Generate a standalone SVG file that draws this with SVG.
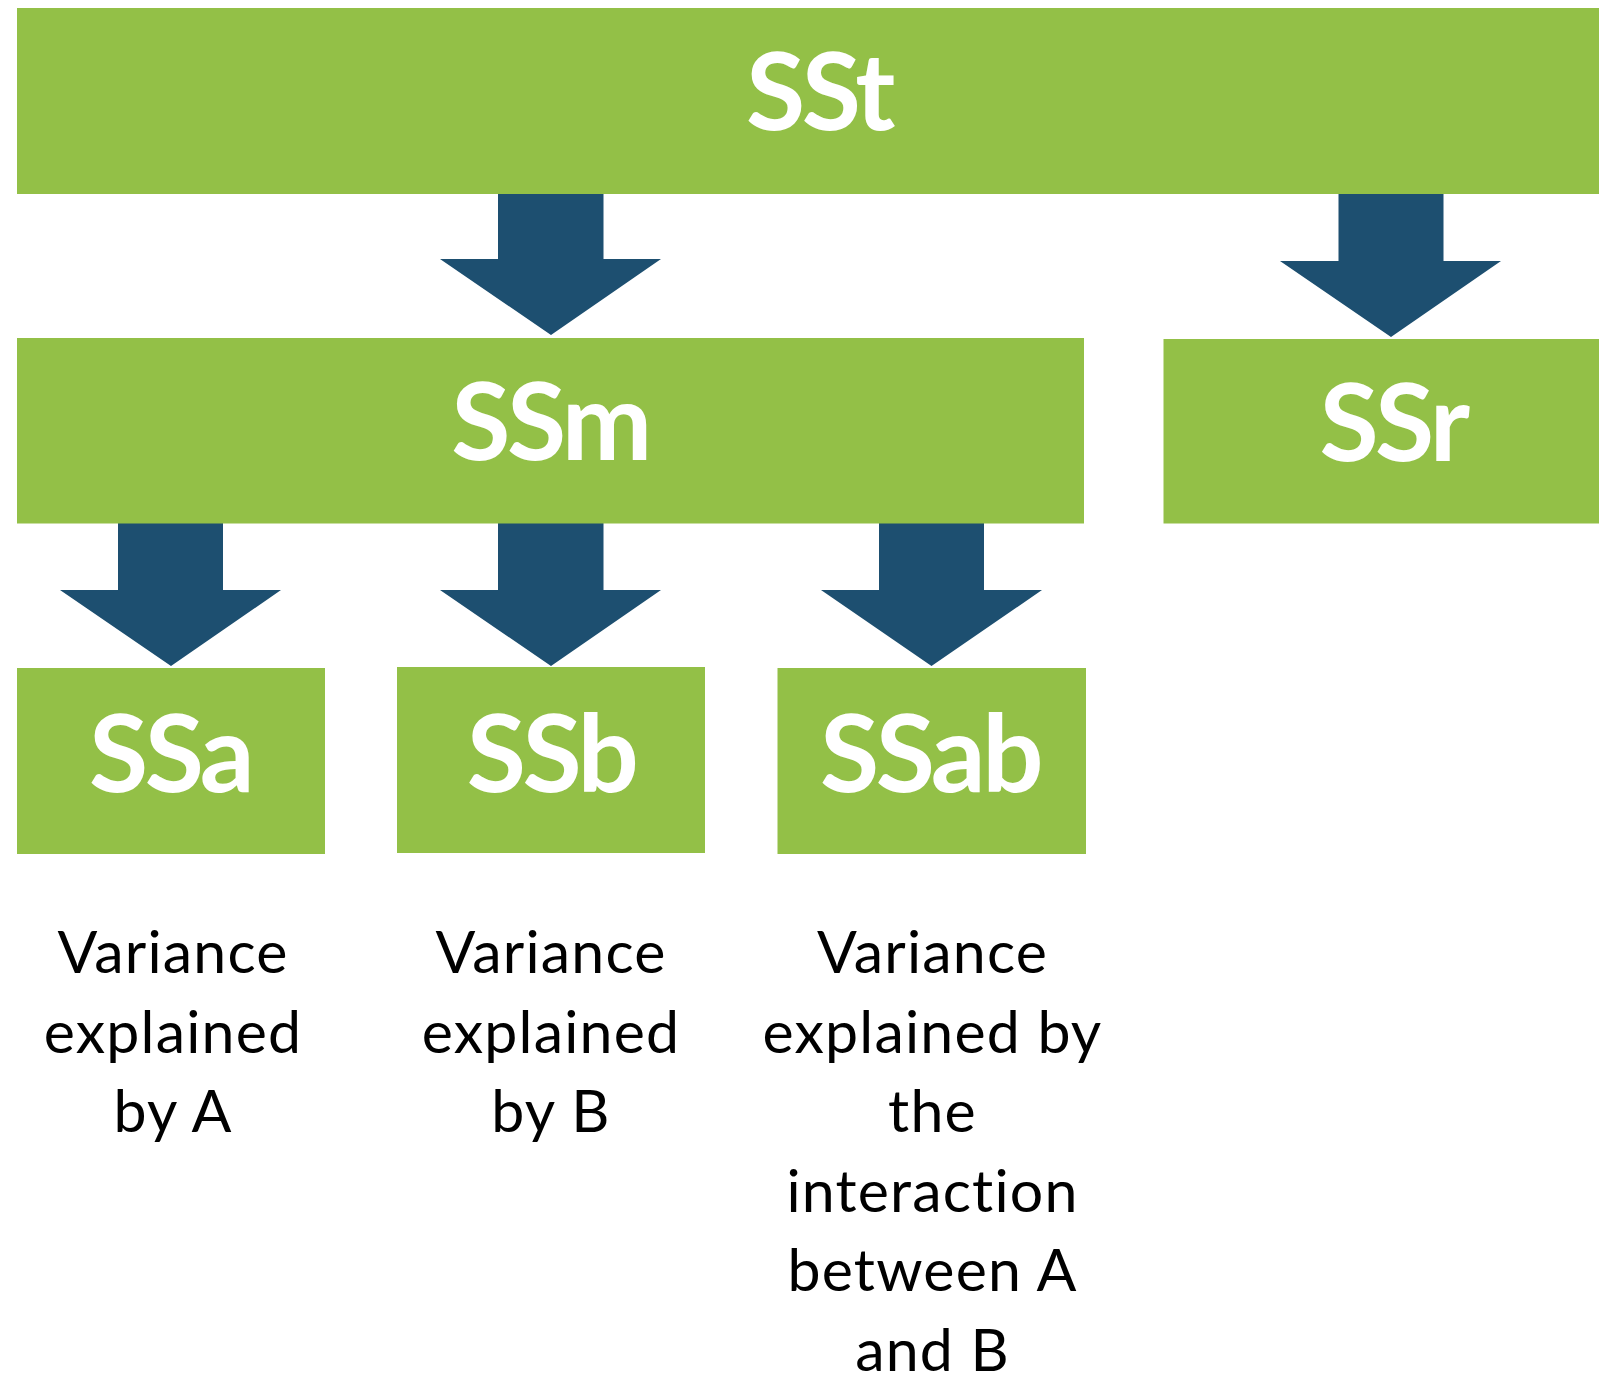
<svg xmlns="http://www.w3.org/2000/svg" width="1599" height="1374" viewBox="0 0 1599 1374">
<style>
.box{fill:#93C047}
.arr{fill:#1D4F70}
.t{font-family:Lato,"Open Sans","Liberation Sans",sans-serif;font-weight:700;font-size:108px;letter-spacing:-3.5px;fill:#fff;text-anchor:middle}
.d{font-family:Lato,"Open Sans","Liberation Sans",sans-serif;font-weight:400;font-size:59px;letter-spacing:1.2px;fill:#000;text-anchor:middle}
</style>
<rect width="1599" height="1374" fill="#fff"/>
<g id="connectors">
<polygon class="arr" points="498,191 603.5,191 603.5,259 661,259 551,335 440,259 498,259"/>
<polygon class="arr" points="1338.5,193 1443.5,193 1443.5,261 1501,261 1391,337 1280,261 1338.5,261"/>
<polygon class="arr" points="118,522 223,522 223,590 281,590 171,666 60,590 118,590"/>
<polygon class="arr" points="498,522 603.5,522 603.5,590 661,590 551,666 440,590 498,590"/>
<polygon class="arr" points="879,522 984,522 984,590 1042,590 931.5,666 821,590 879,590"/>
</g>
<g id="SSt"><rect class="box" x="17" y="8" width="1582" height="186"/><text class="t" x="819" y="130">SSt</text></g>
<g id="SSm"><rect class="box" x="17" y="338" width="1067" height="185.5"/><text class="t" x="550" y="460">SSm</text></g>
<g id="SSr"><rect class="box" x="1163.5" y="339" width="435.5" height="184.5"/><text class="t" x="1393" y="461">SSr</text></g>
<g id="SSa"><rect class="box" x="17" y="668" width="308" height="186"/><text class="t" x="170" y="792">SSa</text></g>
<g id="SSb"><rect class="box" x="397" y="667" width="308" height="186"/><text class="t" x="551" y="792">SSb</text></g>
<g id="SSab"><rect class="box" x="777.5" y="668" width="308.5" height="186"/><text class="t" x="930" y="792">SSab</text></g>
<g id="labelA"><text class="d" x="173" y="973"><tspan x="173">Variance</tspan><tspan x="173" y="1052.5">explained</tspan><tspan x="173" y="1132">by A</tspan></text></g>
<g id="labelB"><text class="d" x="551" y="973"><tspan x="551">Variance</tspan><tspan x="551" y="1052.5">explained</tspan><tspan x="551" y="1132">by B</tspan></text></g>
<g id="labelAB"><text class="d" x="932.5" y="973"><tspan x="932.5">Variance</tspan><tspan x="932.5" y="1052.5">explained by</tspan><tspan x="932.5" y="1132">the</tspan><tspan x="932.5" y="1212">interaction</tspan><tspan x="932.5" y="1291">between A</tspan><tspan x="932.5" y="1371">and B</tspan></text></g>
</svg>
